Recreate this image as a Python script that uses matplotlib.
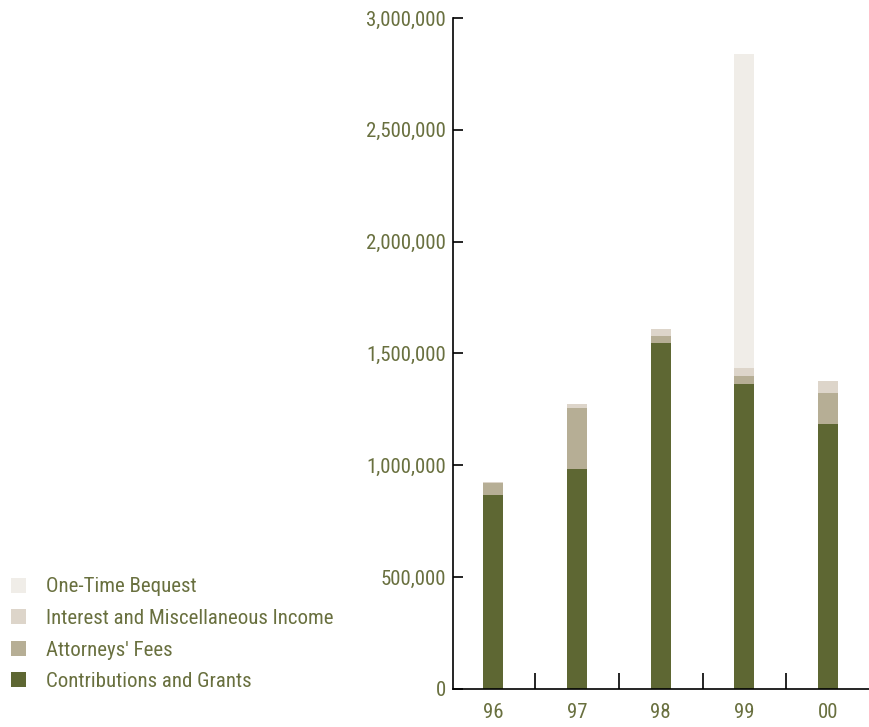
import matplotlib
matplotlib.use("Agg")
import matplotlib.pyplot as plt
from matplotlib.patches import Patch
from matplotlib.ticker import FuncFormatter
import numpy as np

years = ["96", "97", "98", "99", "00"]
contributions = [867000, 984000, 1547000, 1364000, 1185000]
attorneys_fees = [52000, 272000, 31000, 35000, 138000]
interest_misc = [5000, 18000, 32000, 36000, 54000]
bequest = [0, 0, 0, 1404000, 0]

series_labels = ["Contributions and Grants", "Attorneys' Fees",
                 "Interest and Miscellaneous Income", "One-Time Bequest"]
colors = ["#5e6733", "#b6ae95", "#ddd5ca", "#f0ede8"]
text_color = "#69703f"

plt.rcParams['font.family'] = ['Roboto Condensed', 'DejaVu Sans']

fig = plt.figure(figsize=(8.7, 7.27), dpi=100)
ax = fig.add_axes([453/870, 38/727, 417/870, 671/727])

x = np.arange(len(years))
w = 0.24
bottom = np.zeros(len(years))
handles = []
for vals, c, lab in zip([contributions, attorneys_fees, interest_misc, bequest], colors, series_labels):
    ax.bar(x, vals, w, bottom=bottom, color=c, linewidth=0)
    bottom += np.array(vals)
    handles.append(Patch(facecolor=c, edgecolor='none', label=lab))

ax.set_xlim(-0.48, 4.5)
ax.set_ylim(0, 3000000)
ax.set_yticks(np.arange(0, 3000001, 500000))
ax.yaxis.set_major_formatter(FuncFormatter(lambda v, p: f"{int(v):,}"))
ax.set_xticks(x)
ax.set_xticklabels(years)
ax.set_xticks(x + 0.5, minor=True)

for s in ['top', 'right']:
    ax.spines[s].set_visible(False)
for s in ['left', 'bottom']:
    ax.spines[s].set_linewidth(1.2)
    ax.spines[s].set_color('black')

ax.tick_params(axis='y', direction='in', length=7.5, width=1.2, pad=5,
               labelsize=15, labelcolor=text_color, color='black')
ax.tick_params(axis='x', which='major', length=0, pad=10,
               labelsize=15, labelcolor=text_color)
ax.tick_params(axis='x', which='minor', direction='in', length=11.5, width=1.2, color='black')

leg = fig.legend(handles=handles[::-1], loc='lower left',
                 bbox_to_anchor=(11/870, 36/727), frameon=False,
                 fontsize=15, handlelength=0.72, handleheight=0.72,
                 handletextpad=0.95, labelspacing=0.6, borderaxespad=0, borderpad=0)
for t in leg.get_texts():
    t.set_color(text_color)

fig.savefig("out.png", dpi=100, facecolor='white')
